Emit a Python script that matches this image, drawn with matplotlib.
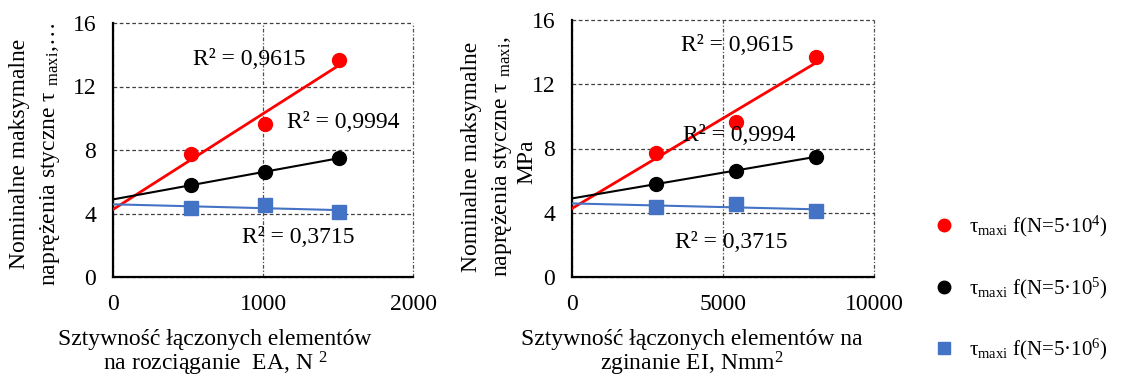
import matplotlib
matplotlib.use("Agg")
import matplotlib.pyplot as plt
from matplotlib.lines import Line2D
import numpy as np

plt.rcParams['font.family'] = ['Liberation Serif', 'DejaVu Serif']
plt.rcParams['mathtext.fontset'] = 'custom'
plt.rcParams['mathtext.rm'] = 'Liberation Serif'
plt.rcParams['mathtext.it'] = 'Liberation Serif:italic'

# --- data ---
ea = [520, 1013, 1507]          # EA
ei = [2780, 5430, 8080]         # EI
tau_n4 = [7.75, 9.64, 13.7]     # N = 5*10^4
tau_n5 = [5.8, 6.6, 7.5]        # N = 5*10^5
tau_n6 = [4.35, 4.54, 4.11]     # N = 5*10^6
r2_labels = ['R² = 0,9615', 'R² = 0,9994', 'R² = 0,3715']

series = [
    (tau_n4, 'red', 'o', 2.0),
    (tau_n5, 'black', 'o', 1.5),
    (tau_n6, '#4472C4', 's', 1.5),
]

W, H = 1127, 378
fig = plt.figure(figsize=(W / 100, H / 100), dpi=100)

def px_axes(x0, y0, x1, y1):
    return fig.add_axes([x0 / W, 1 - y1 / H, (x1 - x0) / W, (y1 - y0) / H])

ax1 = px_axes(113, 23, 413, 277)
ax2 = px_axes(572, 20, 874, 277)

def draw_panel(ax, x, xmax, xticks, r2_pos):
    for ys, col, mk, lw in series:
        k, b = np.polyfit(x, ys, 1)
        xx = np.array([0, max(x)])
        ax.plot(xx, k * xx + b, color=col, lw=lw, zorder=3)
        ax.plot(x, ys, mk, color=col, ms=10, ls='none', zorder=4)
    for txt, (tx, ty) in zip(r2_labels, r2_pos):
        ax.text(tx, ty, txt, fontsize=17, ha='left', va='center', zorder=5)
    ax.set_xlim(0, xmax)
    ax.set_ylim(0, 16)
    ax.set_xticks(xticks)
    ax.set_yticks([0, 4, 8, 12, 16])
    ax.tick_params(length=0, labelsize=17, pad=12)
    ax.grid(True, axis='y', ls=(0, (3, 2)), color='#404040', lw=0.9)
    ax.grid(True, axis='x', ls=(0, (3, 1.5, 1, 1.5)), color='#505050', lw=0.9)
    for gl in ax.get_xgridlines() + ax.get_ygridlines():
        gl.set_clip_on(False)
    for s in ['top', 'right']:
        ax.spines[s].set_visible(False)
    for s in ['left', 'bottom']:
        ax.spines[s].set_linewidth(1.6)
        ax.spines[s].set_zorder(2.5)
    ax.set_axisbelow(True)

draw_panel(ax1, ea, 2000, [0, 1000, 2000],
           [(533, 13.73), (1160, 9.76), (860, 2.46)])
draw_panel(ax2, ei, 10000, [0, 5000, 10000],
           [(3609, 14.44), (3675, 8.84), (3411, 2.12)])

# axis titles
fs = 17
fig.text(20 / W, 1 - 154 / H, 'Nominalne maksymalne', rotation=90,
         ha='center', va='center', fontsize=fs)
fig.text(50 / W, 1 - 154 / H, 'naprężenia styczne τ $_{\\mathrm{maxi}}$,…',
         rotation=90, ha='center', va='center', fontsize=fs)
fig.text(472 / W, 1 - 157 / H, 'Nominalne maksymalne', rotation=90,
         ha='center', va='center', fontsize=fs)
fig.text(502 / W, 1 - 157 / H, 'naprężenia styczne τ $_{\\mathrm{maxi}}$,',
         rotation=90, ha='center', va='center', fontsize=fs)
fig.text(527 / W, 1 - 162 / H, 'MPa', rotation=90,
         ha='center', va='center', fontsize=fs)

fig.text(215 / W, 1 - 339 / H, 'Sztywność łączonych elementów',
         ha='center', va='center', fontsize=fs)
fig.text(215 / W, 1 - 364 / H, 'na rozciąganie  EA, N $^{2}$',
         ha='center', va='center', fontsize=fs)
fig.text(692 / W, 1 - 339 / H, 'Sztywność łączonych elementów na',
         ha='center', va='center', fontsize=fs)
fig.text(692 / W, 1 - 364 / H, 'zginanie EI, Nmm$^{2}$',
         ha='center', va='center', fontsize=fs)

# legend
handles = [Line2D([], [], marker=mk, color=col, ls='none', ms=9)
           for _, col, mk, _ in series]
labels = ['$\\mathrm{\\tau_{maxi}}$ f(N=5·10$^{4}$)',
          '$\\mathrm{\\tau_{maxi}}$ f(N=5·10$^{5}$)',
          '$\\mathrm{\\tau_{maxi}}$ f(N=5·10$^{6}$)']
fig.legend(handles, labels, loc='center left',
           bbox_to_anchor=(915 / W, 1 - 288 / H), frameon=False,
           fontsize=15, labelspacing=1.75, handletextpad=0.7,
           handlelength=1.0)

fig.savefig('out.png', dpi=100)
